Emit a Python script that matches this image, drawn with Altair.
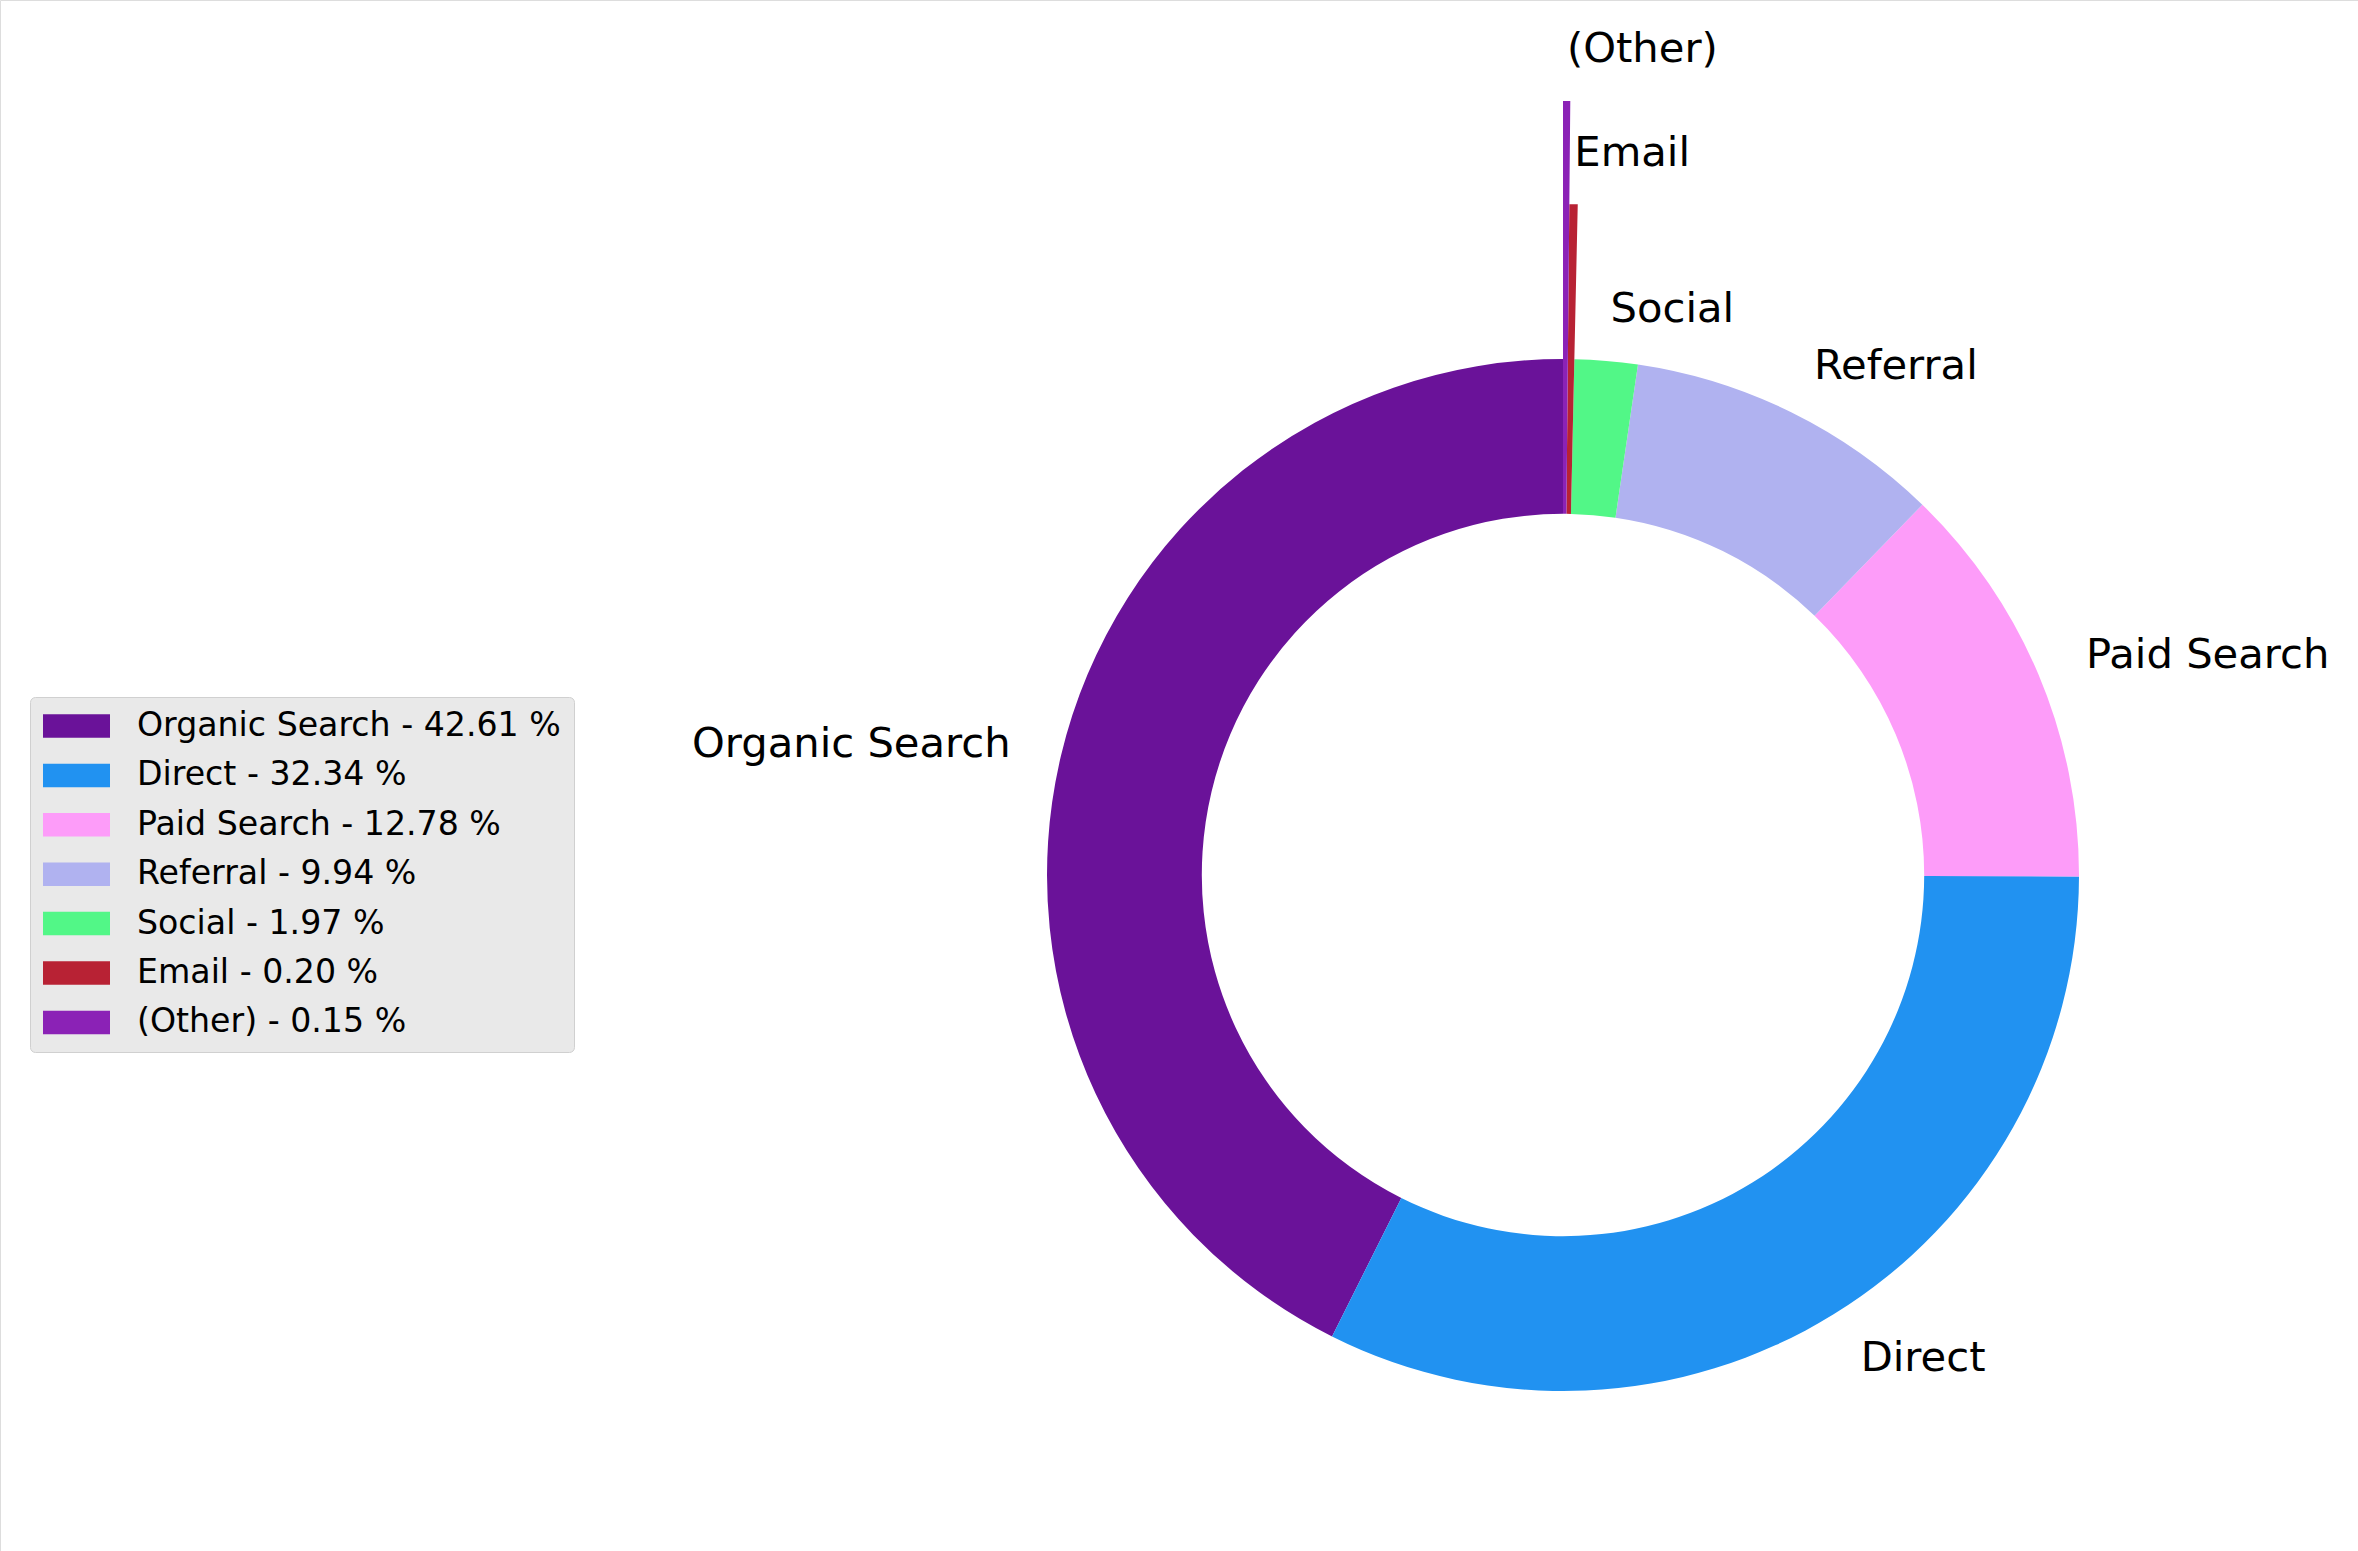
import altair as alt
import pandas as pd

channels = ["Organic Search", "Direct", "Paid Search", "Referral", "Social", "Email", "(Other)"]
shares = [42.61, 32.34, 12.78, 9.94, 1.97, 0.20, 0.15]
colors = ["#6a1299", "#2192f1", "#fd9cf9", "#b0b2f0", "#52f787", "#b82234", "#8b22b6"]

legend_labels = [f"{c} - {v:.2f} %" for c, v in zip(channels, shares)]

df = pd.DataFrame({
    "channel": channels,
    "value": shares,
    "legend": legend_labels,
    "ord": list(range(len(channels)))[::-1],
})

R = 516
CX, CY = 1563, 875
explode_expr = "datum.channel == '(Other)' ? 0.5 : (datum.channel == 'Email' ? 0.3 : 0)"

base = alt.Chart(df).transform_joinaggregate(
    total="sum(value)"
).transform_window(
    cum="sum(value)", sort=[alt.SortField("ord", order="ascending")], frame=[None, 0]
).transform_calculate(
    explode=explode_expr,
    t0="2 * PI * (datum.cum - datum.value) / datum.total",
    t1="2 * PI * datum.cum / datum.total",
).transform_calculate(
    tm="(datum.t0 + datum.t1) / 2",
    r_out=f"{R} * (1 + datum.explode)",
    r_in=f"{R} * 0.7",
    r_lab=f"{R} * (1.1 + datum.explode)",
    lab_left="datum.channel != 'Organic Search' ? datum.channel : ''",
    lab_right="datum.channel == 'Organic Search' ? datum.channel : ''",
)

arcs = base.mark_arc().encode(
    theta=alt.Theta("t0:Q", scale=None),
    theta2="t1:Q",
    radius=alt.Radius("r_out:Q", scale=None),
    radius2="r_in:Q",
    x=alt.value(CX),
    y=alt.value(CY),
    color=alt.Color(
        "legend:N",
        scale=alt.Scale(domain=legend_labels, range=colors),
        legend=alt.Legend(
            title=None,
            orient="none",
            legendX=30,
            legendY=697,
            symbolType="M-1,-0.35H1V0.35H-1Z",
            symbolSize=4489,
            symbolStrokeWidth=0,
            symbolOpacity=1,
            labelFont="DejaVu Sans",
            labelFontSize=33.2,
            labelColor="#000000",
            labelOffset=27,
            labelLimit=1000,
            clipHeight=32,
            rowPadding=15.4,
            padding=13,
            fillColor="#e9e9e9",
            strokeColor="#d0d0d0",
            cornerRadius=5,
        ),
    ),
)

text_style = dict(baseline="middle", font="DejaVu Sans", fontSize=41.7, color="#000000")

labels_left = base.mark_text(align="left", **text_style).encode(
    theta=alt.Theta("tm:Q", scale=None),
    radius=alt.Radius("r_lab:Q", scale=None),
    x=alt.value(CX),
    y=alt.value(CY),
    text="lab_left:N",
)

labels_right = base.mark_text(align="right", **text_style).encode(
    theta=alt.Theta("tm:Q", scale=None),
    radius=alt.Radius("r_lab:Q", scale=None),
    x=alt.value(CX),
    y=alt.value(CY),
    text="lab_right:N",
)

chart = alt.layer(arcs, labels_left, labels_right).properties(
    width=2358,
    height=1551,
    autosize=alt.AutoSizeParams(type="none"),
    padding=0,
).configure_view(stroke=None).configure(background="white")

chart.save("out.html", embed_options={"renderer": "svg", "actions": False})
